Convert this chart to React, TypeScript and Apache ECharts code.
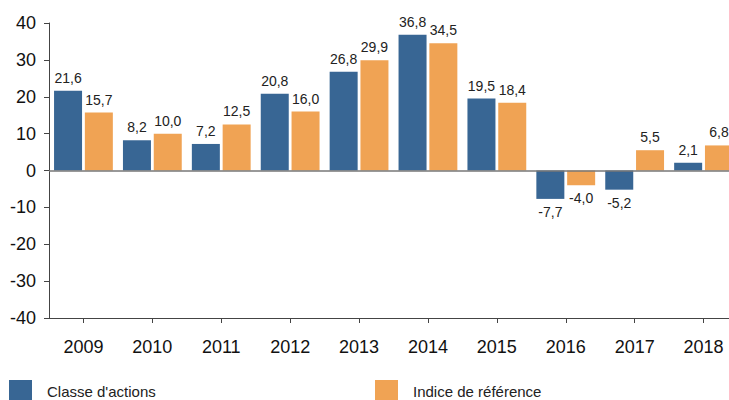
import React, { useEffect, useRef } from "react";
import * as echarts from "echarts";

const years = ["2009", "2010", "2011", "2012", "2013", "2014", "2015", "2016", "2017", "2018"];
const classeActions = [21.6, 8.2, 7.2, 20.8, 26.8, 36.8, 19.5, -7.7, -5.2, 2.1];
const indiceReference = [15.7, 10.0, 12.5, 16.0, 29.9, 34.5, 18.4, -4.0, 5.5, 6.8];
const seriesNames = ["Classe d'actions", "Indice de référence"];

const BLUE = "#386694";
const ORANGE = "#F0A354";
const FONT = "'Liberation Sans', Arial, sans-serif";

const fmt = (v: number) => v.toFixed(1).replace(".", ",");

const toData = (arr: number[]) =>
  arr.map((v) => ({
    value: v,
    label: { position: v < 0 ? "bottom" : "top" },
  }));

export default function App() {
  const ref = useRef<HTMLDivElement>(null);
  useEffect(() => {
    if (!ref.current) return;
    const chart = echarts.init(ref.current, null, { renderer: "svg" });
    const labelCfg = {
      show: true,
      distance: 6,
      color: "#222",
      fontSize: 14,
      fontFamily: FONT,
      formatter: (p: any) => fmt(p.value),
    };
    const legendText = { fontSize: 15, color: "#222", fontFamily: FONT, padding: [0, 0, 0, 10] };
    chart.setOption({
      animation: false,
      backgroundColor: "#fff",
      textStyle: { fontFamily: FONT },
      grid: { left: 49, top: 23, width: 689, height: 295, containLabel: false },
      legend: [
        {
          data: [seriesNames[0]],
          left: 9,
          top: 380,
          icon: "rect",
          itemWidth: 23,
          itemHeight: 23,
          itemGap: 0,
          textStyle: legendText,
          padding: 0,
        },
        {
          data: [seriesNames[1]],
          left: 375,
          top: 380,
          icon: "rect",
          itemWidth: 23,
          itemHeight: 23,
          itemGap: 0,
          textStyle: legendText,
          padding: 0,
        },
      ],
      xAxis: {
        type: "category",
        data: years,
        axisLine: { onZero: false, lineStyle: { color: "#444", width: 1 } },
        axisTick: { show: true, alignWithLabel: true, length: 5, lineStyle: { color: "#444" } },
        axisLabel: { fontSize: 18, color: "#111", margin: 20, fontFamily: FONT },
        splitLine: { show: false },
      },
      yAxis: {
        type: "value",
        min: -40,
        max: 40,
        interval: 10,
        axisLine: { show: true, lineStyle: { color: "#444", width: 1 } },
        axisTick: { show: true, length: 5, lineStyle: { color: "#444" } },
        axisLabel: { fontSize: 18, color: "#111", margin: 13, fontFamily: FONT },
        splitLine: { show: false },
      },
      series: [
        {
          name: seriesNames[0],
          type: "bar",
          data: toData(classeActions),
          barWidth: 28,
          barGap: "10%",
          itemStyle: { color: BLUE },
          label: labelCfg,
          markLine: {
            silent: true,
            symbol: "none",
            label: { show: false },
            lineStyle: { color: "#777", width: 1.5, type: "solid" },
            data: [{ yAxis: 0 }],
            z: 10,
          },
        },
        {
          name: seriesNames[1],
          type: "bar",
          data: toData(indiceReference),
          barWidth: 28,
          barGap: "10%",
          itemStyle: { color: ORANGE },
          label: labelCfg,
        },
      ],
    });
    return () => chart.dispose();
  }, []);
  return (
    <div style={{ position: "absolute", left: 0, top: 0, width: 729, height: 400, overflow: "hidden" }}>
      <div ref={ref} style={{ width: 740, height: 400 }} />
    </div>
  );
}
